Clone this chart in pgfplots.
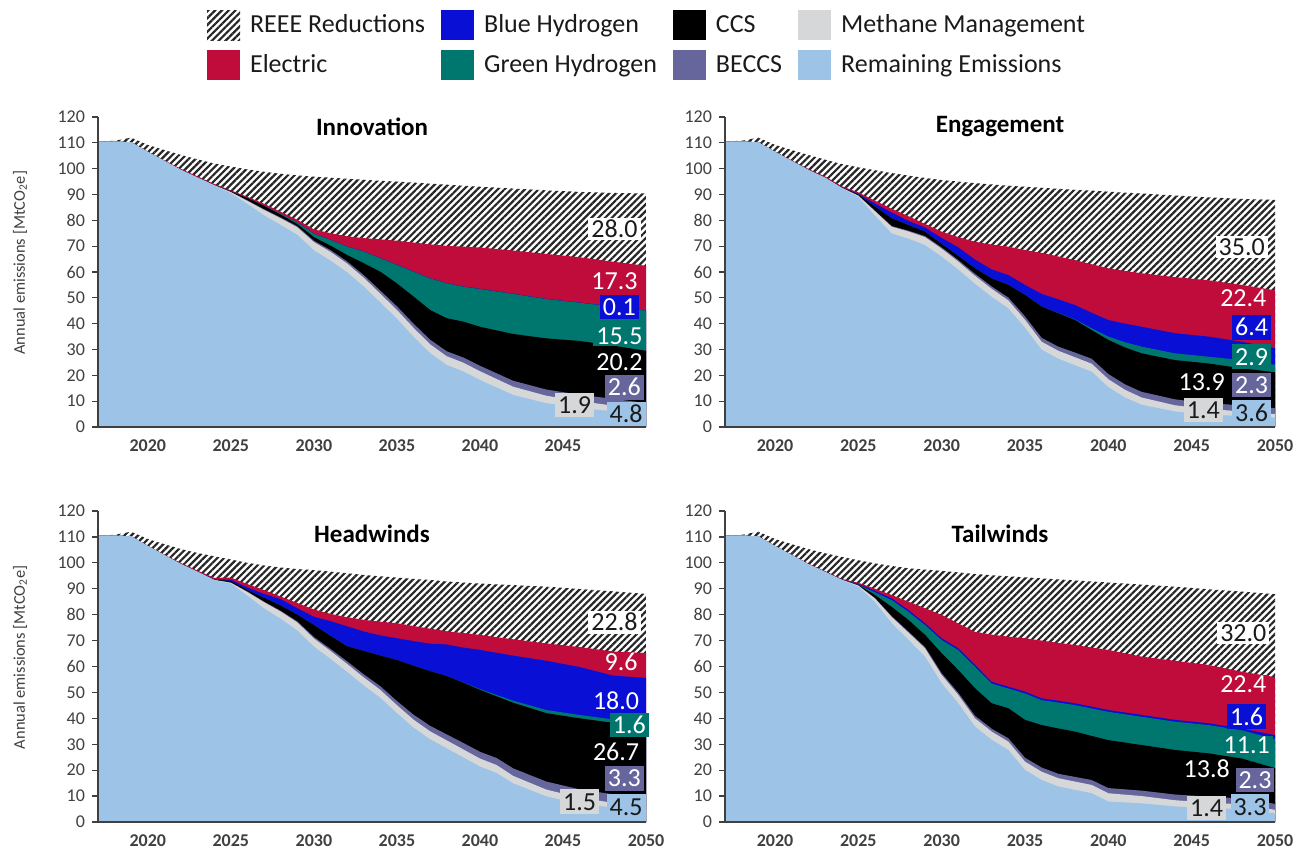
\documentclass[border=0pt]{standalone}
\usepackage{fontspec}
\setmainfont{Carlito}
\usepackage{pgfplots}
\usepackage{pgfplotstable}
\pgfplotsset{compat=1.18}
\usetikzlibrary{patterns.meta}

\definecolor{cHatch}{HTML}{262626}
\definecolor{cEle}{HTML}{C00C3B}
\definecolor{cBH}{HTML}{0A0FD5}
\definecolor{cGH}{HTML}{00776E}
\definecolor{cCCS}{HTML}{000000}
\definecolor{cBEC}{HTML}{66669C}
\definecolor{cMet}{HTML}{D6D7D9}
\definecolor{cRem}{HTML}{9DC3E6}
\definecolor{cAx}{HTML}{404040}
\definecolor{cTxt}{HTML}{1A1A1A}

% cumulative tops of each layer, bottom to top
\pgfplotstableread{
yr   rem   met   bec   ccs   gh    bh    ele   top
2017 110.5 110.5 110.5 110.5 110.5 110.5 110.5 110.5
2018 110.5 110.5 110.5 110.5 110.5 110.5 110.5 110.8
2019 110.2 110.2 110.2 110.2 110.2 110.2 110.2 112.0
2020 106.5 106.5 106.5 106.5 106.5 106.5 106.6 109.2
2021 103.0 103.0 103.0 103.0 103.0 103.0 103.2 107.2
2022 99.5  99.5  99.5  99.5  99.5  99.5  99.9  105.3
2023 96.5  96.5  96.5  96.5  96.5  96.5  97.0  103.6
2024 93.5  93.6  93.6  93.7  93.7  93.7  94.1  102.0
2025 90.5  90.9  91.0  91.2  91.2  91.2  91.6  100.8
2026 86.3  87.5  87.7  88.6  88.6  88.6  89.1  99.7
2027 81.9  84.0  84.3  85.6  85.7  85.7  86.4  98.8
2028 78.2  80.8  81.1  82.2  82.5  82.5  83.3  98.0
2029 74.4  77.3  77.7  78.6  79.2  79.3  80.2  97.4
2030 68.4  71.6  72.1  73.5  74.8  74.9  76.5  96.9
2031 64.4  67.8  68.5  70.2  72.4  72.5  75.0  96.5
2032 59.9  63.3  64.1  66.6  69.8  69.9  73.8  96.1
2033 54.4  57.8  58.8  63.4  67.9  68.0  73.1  95.7
2034 48.2  51.6  52.8  60.1  65.3  65.4  72.6  95.3
2035 41.9  45.3  46.7  55.6  62.7  62.8  72.1  95.0
2036 35.0  38.4  40.0  50.5  60.1  60.2  71.4  94.6
2037 28.6  32.0  33.8  45.3  57.5  57.6  70.7  94.2
2038 24.0  27.4  29.3  42.1  55.6  55.7  70.1  93.8
2039 21.5  24.9  26.9  40.8  54.3  54.4  69.8  93.4
2040 18.2  21.6  23.7  38.8  53.4  53.5  69.5  93.0
2042 12.4  15.6  17.9  36.0  51.5  51.6  68.3  92.3
2044 9.2   12.1  14.5  34.3  49.5  49.6  67.0  91.6
2046 7.3   10.0  12.5  33.3  48.1  48.2  65.7  91.0
2048 6.1   8.3   10.9  31.5  46.6  46.7  64.0  90.6
2050 4.8   6.7   9.3   29.5  45.0  45.1  62.4  90.4
}\tabInno

\pgfplotstableread{
yr   rem   met   bec   ccs   gh    bh    ele   top
2017 110.5 110.5 110.5 110.5 110.5 110.5 110.5 110.5
2018 110.5 110.5 110.5 110.5 110.5 110.5 110.5 110.8
2019 110.2 110.2 110.2 110.2 110.2 110.2 110.2 112.0
2020 106.5 106.5 106.5 106.5 106.5 106.5 106.6 109.2
2021 103.0 103.0 103.0 103.0 103.0 103.0 103.2 107.2
2022 99.5  99.5  99.5  99.5  99.5  99.5  99.9  105.3
2023 96.5  96.5  96.5  96.5  96.5  96.5  97.0  103.5
2024 92.5  92.6  92.6  92.7  92.7  92.8  93.2  101.8
2025 89.0  89.5  89.6  90.0  90.0  90.3  90.8  100.5
2026 81.8  83.5  83.7  85.3  85.3  86.5  87.6  99.4
2027 74.9  77.5  77.8  80.8  80.8  83.0  84.5  98.3
2028 72.9  75.7  76.0  78.2  78.2  79.8  81.6  97.3
2029 70.4  73.5  73.9  75.6  75.6  77.2  78.6  96.4
2030 65.9  69.0  69.5  70.8  70.8  73.2  75.6  95.6
2031 60.9  64.0  64.6  66.2  66.2  69.5  73.5  95.0
2032 55.4  58.5  59.3  61.4  61.4  64.8  71.7  94.4
2033 50.4  53.5  54.4  57.5  57.5  61.0  70.6  93.9
2034 45.9  49.0  50.1  55.0  55.0  58.8  69.8  93.4
2035 38.4  41.5  42.8  51.1  51.1  55.0  68.5  93.0
2036 29.9  33.0  34.5  46.6  46.6  51.5  67.4  92.6
2037 26.4  29.5  31.1  44.0  44.1  49.4  66.0  92.2
2038 23.9  27.0  28.8  41.4  41.6  47.2  64.6  91.8
2039 21.4  24.5  26.4  37.5  38.2  44.2  63.0  91.5
2040 15.4  18.5  20.5  33.7  35.0  41.4  61.4  91.1
2041 11.4  14.4  16.5  30.8  32.8  40.0  60.4  90.7
2042 8.6   11.4  13.6  28.5  31.1  38.8  59.5  90.4
2044 6.0   8.4   10.7  25.9  28.5  36.3  58.0  89.6
2046 4.7   6.9   9.2   24.6  27.2  35.0  56.8  88.9
2048 4.3   6.1   8.4   22.7  25.9  33.0  55.0  88.3
2050 3.6   5.0   7.3   21.2  24.1  30.5  52.9  87.9
}\tabEnga

\pgfplotstableread{
yr   rem   met   bec   ccs   gh    bh    ele   top
2017 110.5 110.5 110.5 110.5 110.5 110.5 110.5 110.5
2018 110.5 110.5 110.5 110.5 110.5 110.5 110.5 110.8
2019 110.2 110.2 110.2 110.2 110.2 110.2 110.2 112.0
2020 106.5 106.5 106.5 106.5 106.5 106.5 106.6 109.2
2021 103.0 103.0 103.0 103.0 103.0 103.0 103.2 107.2
2022 99.5  99.5  99.5  99.5  99.5  99.5  99.9  105.3
2023 96.5  96.5  96.5  96.5  96.5  96.5  97.0  103.8
2024 93.3  93.4  93.4  93.5  93.5  93.7  94.2  102.5
2025 92.0  92.3  92.4  93.0  93.0  93.5  94.3  101.3
2026 87.3  88.7  88.9  89.5  89.5  90.5  91.8  100.0
2027 82.4  84.8  85.0  86.5  86.5  88.0  89.5  99.0
2028 78.4  81.2  81.5  83.5  83.5  86.0  87.0  98.2
2029 73.9  77.0  77.4  80.0  80.0  82.5  84.5  97.6
2030 67.7  70.8  71.4  76.0  76.0  79.2  82.0  97.2
2031 62.9  66.0  66.8  71.8  71.8  77.5  80.3  96.6
2032 57.9  61.0  62.0  67.8  67.8  75.5  79.0  96.0
2033 52.7  55.8  57.0  66.0  66.0  73.5  78.0  95.3
2034 47.9  51.0  52.4  64.2  64.2  72.0  77.3  94.8
2035 42.0  45.1  46.7  62.5  62.5  70.9  76.7  94.3
2036 36.4  39.5  41.4  60.3  60.3  69.8  75.6  93.8
2037 31.9  35.0  37.1  58.2  58.2  68.8  74.6  93.4
2038 28.4  31.5  33.8  56.3  56.3  68.5  73.6  92.8
2039 24.9  28.0  30.5  53.7  53.8  67.3  72.9  92.4
2040 21.4  24.5  27.1  51.0  51.3  66.4  72.2  92.0
2041 18.9  22.0  24.7  48.5  49.0  65.3  71.3  91.7
2042 14.9  17.8  20.7  46.0  46.8  64.2  70.5  91.4
2044 9.9   12.5  15.6  42.0  43.2  62.2  68.9  90.8
2046 7.0   9.4   12.6  40.0  41.3  59.8  67.5  89.9
2048 5.6   7.4   10.7  38.3  39.6  56.5  65.8  89.0
2050 4.5   6.0   9.3   36.0  37.6  55.6  65.2  88.0
}\tabHead

\pgfplotstableread{
yr   rem   met   bec   ccs   gh    bh    ele   top
2017 110.5 110.5 110.5 110.5 110.5 110.5 110.5 110.5
2018 110.5 110.5 110.5 110.5 110.5 110.5 110.5 110.8
2019 110.2 110.2 110.2 110.2 110.2 110.2 110.2 112.0
2020 106.5 106.5 106.5 106.5 106.5 106.5 106.5 109.2
2021 103.0 103.0 103.0 103.0 103.0 103.0 103.1 107.2
2022 99.5  99.5  99.5  99.5  99.5  99.5  99.7  105.3
2023 96.5  96.5  96.5  96.5  96.5  96.5  96.8  103.7
2024 93.4  93.5  93.5  93.6  93.6  93.6  93.8  102.3
2025 90.8  91.2  91.3  91.5  91.6  91.9  92.3  101.0
2026 84.8  86.2  86.4  87.6  88.6  89.2  90.0  99.8
2027 76.7  79.1  79.4  83.0  85.6  86.3  87.6  98.8
2028 70.3  73.1  73.5  78.0  81.1  81.8  85.0  97.9
2029 63.8  67.0  67.5  72.2  76.0  76.7  82.5  97.4
2030 53.5  56.7  57.4  65.1  70.2  70.9  79.9  96.9
2031 45.8  49.0  49.8  58.6  66.3  67.0  76.6  96.3
2032 36.8  40.0  41.0  51.6  59.9  60.6  73.4  95.7
2033 31.7  34.9  36.0  45.8  53.4  54.1  72.3  95.2
2034 27.8  31.0  32.3  43.9  51.5  52.2  71.5  94.8
2035 20.1  23.3  24.8  39.4  49.6  50.3  70.9  94.4
2036 16.2  19.4  21.0  37.4  47.0  47.7  70.0  94.0
2037 13.7  16.9  18.6  36.1  46.1  46.8  69.1  93.6
2038 12.4  15.6  17.4  34.9  45.1  45.8  68.3  93.2
2039 11.1  14.3  16.2  33.2  43.8  44.5  67.3  92.8
2040 7.9   11.1  13.1  31.6  42.5  43.2  66.4  92.4
2042 7.2   10.0  12.1  29.7  40.6  41.3  63.8  91.6
2044 6.0   8.4   10.6  27.8  38.7  39.4  62.2  90.8
2046 5.3   7.5   9.8   26.5  37.4  38.1  60.6  89.8
2048 5.0   6.8   9.1   24.5  35.4  36.1  58.0  88.9
2050 3.3   4.7   7.0   20.8  31.9  33.5  55.9  87.9
}\tabTail

\tikzset{
  hatch/.style={pattern={Lines[angle=45,distance=2.4pt,line width=1.1pt]}, pattern color=cHatch},
  lab/.style={font=\fontsize{13}{13}\selectfont, inner xsep=1.5pt, inner ysep=2pt,
    text height=8.3pt, text depth=0pt, anchor=center},
  plain/.style={lab, inner ysep=0.5pt},
}

\pgfplotsset{
  panel/.style={
    scale only axis, width=274pt, height=155pt,
    anchor=south west,
    xmin=2017, xmax=2050, ymin=0, ymax=120,
    ytick={0,10,...,120},
    xtick={2020,2025,...,2050},
    axis lines=left,
    axis line style={draw=cAx, line width=0.6pt, -},
    tick align=outside, major tick length=3pt,
    xtick style={draw=none},
    ytick style={draw=cAx, line width=0.6pt},
    tick label style={font=\fontsize{9}{9}\selectfont, text=cAx},
    xticklabel style={font=\bfseries\fontsize{9}{9}\selectfont},
    /pgf/number format/1000 sep={},
    /pgf/number format/assume math mode=true,
    clip mode=individual,
    axis on top,
    title style={font=\bfseries\fontsize{12.5}{12.5}\selectfont, text=black,
      at={(0.5,1)}, anchor=center, inner sep=0pt, yshift=-11pt},
    ylabel style={at={(axis description cs:-0.142,0.53)}, anchor=center,
      font=\fontsize{8.2}{8.2}\selectfont, text=cAx},
  },
}

\newcommand{\layers}[1]{%
  \addplot[hatch, draw=none, mark=none] table[x=yr,y=top] {#1} \closedcycle;
  \addplot[fill=cEle, draw=none, mark=none] table[x=yr,y=ele] {#1} \closedcycle;
  \addplot[fill=cBH, draw=none, mark=none] table[x=yr,y=bh] {#1} \closedcycle;
  \addplot[fill=cGH, draw=none, mark=none] table[x=yr,y=gh] {#1} \closedcycle;
  \addplot[fill=cCCS, draw=none, mark=none] table[x=yr,y=ccs] {#1} \closedcycle;
  \addplot[fill=cBEC, draw=none, mark=none] table[x=yr,y=bec] {#1} \closedcycle;
  \addplot[fill=cMet, draw=none, mark=none] table[x=yr,y=met] {#1} \closedcycle;
  \addplot[fill=cRem, draw=none, mark=none] table[x=yr,y=rem] {#1} \closedcycle;
}

\begin{document}
\begin{tikzpicture}
\path[use as bounding box] (0,0) rectangle (654.5pt,425pt);

% Innovation
\begin{axis}[panel, at={(49pt,211.5pt)}, title={Innovation},
  xtick={2020,2025,...,2045},
  ylabel={Annual emissions [MtCO\textsubscript{2}e]},
  legend columns=4,
  legend cell align=left,
  legend image code/.code={\path[#1] (0pt,-7.5pt) rectangle (16.5pt,7.5pt);},
  legend style={at={(1.002,1.232)}, anchor=center, draw=none, fill=none,
    font=\fontsize{13}{15}\selectfont, text=cTxt, row sep=5pt,
    nodes={inner sep=1pt},
    /tikz/every odd column/.append style={column sep=4pt},
    /tikz/every even column/.append style={column sep=7pt}},
]
\addlegendimage{hatch, draw=none}\addlegendentry{REEE Reductions}
\addlegendimage{fill=cBH, draw=none}\addlegendentry{Blue Hydrogen}
\addlegendimage{fill=cCCS, draw=none}\addlegendentry{CCS}
\addlegendimage{fill=cMet, draw=none}\addlegendentry{Methane Management}
\addlegendimage{fill=cEle, draw=none}\addlegendentry{Electric}
\addlegendimage{fill=cGH, draw=none}\addlegendentry{Green Hydrogen}
\addlegendimage{fill=cBEC, draw=none}\addlegendentry{BECCS}
\addlegendimage{fill=cRem, draw=none}\addlegendentry{Remaining Emissions}
\layers{\tabInno}
\node[lab, fill=white, text=cTxt, inner ysep=1.4pt] at (axis cs:2048.1,76.7) {28.0};
\node[plain, fill=cEle, text=white] at (axis cs:2048.1,56.6) {17.3};
\node[lab, fill=cBH, text=white] at (axis cs:2048.4,46.5) {0.1};
\node[plain, fill=cGH, text=white] at (axis cs:2048.4,35.0) {15.5};
\node[plain, fill=cCCS, text=white] at (axis cs:2048.4,25.0) {20.2};
\node[lab, fill=cBEC, text=white] at (axis cs:2048.7,15.3) {2.6};
\node[lab, fill=cMet, text=cTxt] at (axis cs:2045.7,8.5) {1.9};
\node[lab, fill=cRem, text=cTxt] at (axis cs:2048.8,4.9) {4.8};
\end{axis}

% Engagement
\begin{axis}[panel, at={(362.5pt,211.5pt)}, width=275pt, title={Engagement}]
\layers{\tabEnga}
\node[lab, fill=white, text=cTxt, inner ysep=1.4pt] at (axis cs:2048.0,69.6) {35.0};
\node[plain, fill=cEle, text=white] at (axis cs:2048.1,49.8) {22.4};
\node[lab, fill=cBH, text=white] at (axis cs:2048.6,38.5) {6.4};
\node[lab, fill=cGH, text=white] at (axis cs:2048.6,27.2) {2.9};
\node[plain, fill=cCCS, text=white] at (axis cs:2045.6,17.5) {13.9};
\node[lab, fill=cBEC, text=white] at (axis cs:2048.6,16.3) {2.3};
\node[lab, fill=cMet, text=cTxt] at (axis cs:2045.7,6.6) {1.4};
\node[lab, fill=cRem, text=cTxt] at (axis cs:2048.6,5.5) {3.6};
\end{axis}

% Headwinds
\begin{axis}[panel, at={(49pt,14pt)}, height=155.5pt, title={Headwinds},
  title style={yshift=-6.5pt},
  ylabel={Annual emissions [MtCO\textsubscript{2}e]}]
\layers{\tabHead}
\node[lab, fill=white, text=cTxt, inner ysep=1.4pt] at (axis cs:2048.1,77.0) {22.8};
\node[plain, fill=cEle, text=white] at (axis cs:2048.5,61.5) {9.6};
\node[plain, fill=cBH, text=white] at (axis cs:2048.2,46.8) {18.0};
\node[lab, fill=cGH, text=white] at (axis cs:2049.0,37.4) {1.6};
\node[plain, fill=cCCS, text=white] at (axis cs:2048.2,27.1) {26.7};
\node[lab, fill=cBEC, text=white] at (axis cs:2048.7,16.9) {3.3};
\node[lab, fill=cMet, text=cTxt] at (axis cs:2046.0,7.8) {1.5};
\node[lab, fill=cRem, text=cTxt] at (axis cs:2048.8,5.9) {4.5};
\end{axis}

% Tailwinds
\begin{axis}[panel, at={(362.5pt,14pt)}, width=275pt, height=155.5pt, title={Tailwinds},
  title style={yshift=-6.5pt}]
\layers{\tabTail}
\node[lab, fill=white, text=cTxt, inner ysep=1.4pt] at (axis cs:2048.1,72.8) {32.0};
\node[plain, fill=cEle, text=white] at (axis cs:2048.1,53.2) {22.4};
\node[lab, fill=cBH, text=white] at (axis cs:2048.3,40.6) {1.6};
\node[plain, fill=cGH, text=white] at (axis cs:2048.3,29.5) {11.1};
\node[lab, fill=cCCS, text=white] at (axis cs:2045.9,20.4) {13.8};
\node[lab, fill=cBEC, text=white] at (axis cs:2048.8,16.2) {2.3};
\node[lab, fill=cMet, text=cTxt] at (axis cs:2045.9,5.4) {1.4};
\node[lab, fill=cRem, text=cTxt] at (axis cs:2048.5,5.9) {3.3};
\end{axis}
\end{tikzpicture}
\end{document}
